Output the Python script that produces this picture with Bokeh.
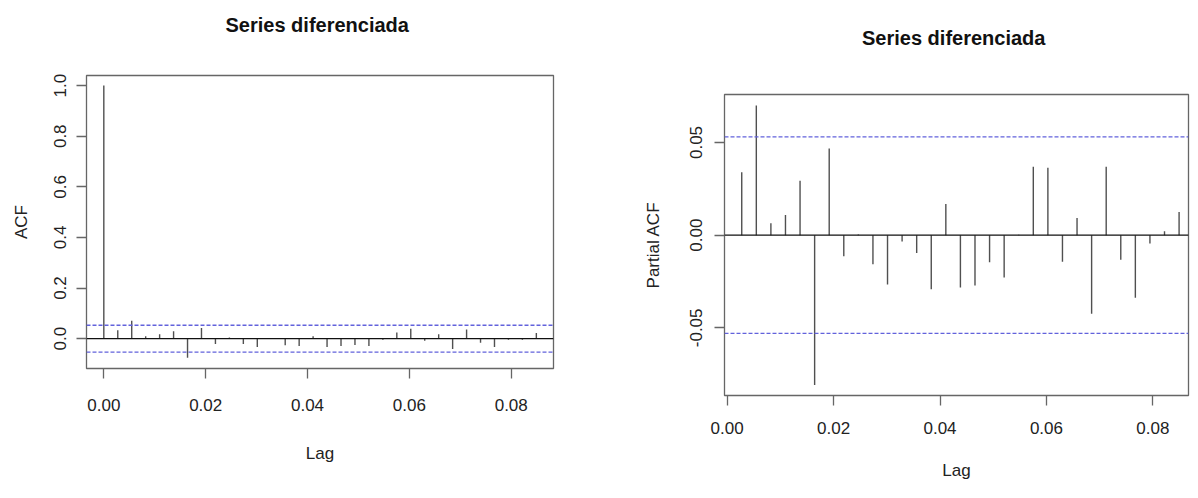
from bokeh.plotting import figure
from bokeh.layouts import row, column
from bokeh.models import Span, FixedTicker, NumeralTickFormatter, Range1d
from bokeh.embed import file_html
from bokeh.resources import INLINE

# ---------------- data ----------------
frequency = 365
acf_lag_index = [0, 1, 2, 3, 4, 5, 6, 7, 8, 9, 10, 11, 12, 13, 14, 15,
                 16, 17, 18, 19, 20, 21, 22, 23, 24, 25, 26, 27, 28, 29, 30, 31]
acf_values = [1.0, 0.033, 0.071, 0.009, 0.017, 0.029, -0.076, 0.042, -0.021, 0.005,
              -0.021, -0.033, 0.001, -0.026, -0.029, 0.009, -0.033, -0.029, -0.025, -0.029,
              -0.004, 0.024, 0.039, -0.008, 0.017, -0.041, 0.036, -0.016, -0.033, -0.004,
              -0.004, 0.022]
pacf_lag_index = [1, 2, 3, 4, 5, 6, 7, 8, 9, 10, 11, 12, 13, 14, 15, 16,
                  17, 18, 19, 20, 21, 22, 23, 24, 25, 26, 27, 28, 29, 30, 31]
pacf_values = [0.034, 0.070, 0.0064, 0.0109, 0.0294, -0.0809, 0.0467, -0.0114, 0.0003, -0.0157,
               -0.0266, -0.0034, -0.0096, -0.0292, 0.0168, -0.0282, -0.0271, -0.0146, -0.0228, 0.0002,
               0.0369, 0.0364, -0.0143, 0.0093, -0.0424, 0.0369, -0.0132, -0.0337, -0.0045, 0.0021,
               0.0125]
conf_limit = 0.053
title_text = "Series  diferenciada"
x_ticks = [0.0, 0.02, 0.04, 0.06, 0.08]
acf_y_ticks = [0.0, 0.2, 0.4, 0.6, 0.8, 1.0]
pacf_y_ticks = [-0.05, 0.0, 0.05]

acf_lags = [k / frequency for k in acf_lag_index]
pacf_lags = [k / frequency for k in pacf_lag_index]

FONT = "Liberation Sans"
BAR = "#505050"
BOX = "#666666"
BLUE = "#6262dc"


def style(p, ylabel, yfmt, yticks, title_sd, ylab_sd, ylbl_sd, xlab_sd, xlbl_sd):
    xa = p.below[0]
    ya = p.left[0]
    p.grid.visible = False
    p.outline_line_color = BOX
    p.outline_line_width = 1.3
    p.background_fill_color = "white"
    p.border_fill_color = "white"
    # trailing empty line lifts the title away from the frame
    p.title.text = title_text + "\n"
    p.title.align = "center"
    p.title.vertical_align = "top"
    p.title.standoff = title_sd
    p.title.text_line_height = 1.1
    p.title.text_font = FONT
    p.title.text_font_size = "20px"
    p.title.text_font_style = "bold"
    p.title.text_color = "#111111"
    for ax in (xa, ya):
        ax.axis_line_color = None
        ax.major_tick_line_color = BOX
        ax.major_tick_line_width = 1.3
        ax.major_tick_in = 0
        ax.major_tick_out = 10
        ax.minor_tick_line_color = None
        ax.major_label_text_font = FONT
        ax.major_label_text_font_size = "17px"
        ax.major_label_text_color = "#222222"
        ax.axis_label_text_font = FONT
        ax.axis_label_text_font_size = "17px"
        ax.axis_label_text_font_style = "normal"
        ax.axis_label_text_color = "#222222"
    xa.ticker = FixedTicker(ticks=x_ticks)
    xa.formatter = NumeralTickFormatter(format="0.00")
    xa.axis_label = "Lag"
    xa.major_label_standoff = xlab_sd
    xa.axis_label_standoff = xlbl_sd
    ya.ticker = FixedTicker(ticks=yticks)
    ya.formatter = NumeralTickFormatter(format=yfmt)
    ya.axis_label = ylabel
    ya.major_label_orientation = "vertical"
    ya.major_label_standoff = ylab_sd
    ya.axis_label_standoff = ylbl_sd


def add_marks(p, lags, vals):
    p.add_layout(Span(location=0, dimension="width", line_color="#111111", line_width=1.2))
    p.add_layout(Span(location=conf_limit, dimension="width", line_color=BLUE,
                      line_width=1.3, line_dash="4 2"))
    p.add_layout(Span(location=-conf_limit, dimension="width", line_color=BLUE,
                      line_width=1.3, line_dash="4 2"))
    p.segment(x0=lags, y0=[0] * len(lags), x1=lags, y1=vals, line_color=BAR, line_width=1.4)


# ---------------- ACF ----------------
p1 = figure(width=640, height=482, output_backend="svg", toolbar_location=None,
            x_range=Range1d(-0.0034, 0.0883), y_range=Range1d(-0.118, 1.04),
            min_border_left=86, min_border_right=87, min_border_top=75, min_border_bottom=114)
style(p1, "ACF", "0.0", acf_y_ticks, 27, 10, 21, 20, 30)
add_marks(p1, acf_lags, acf_values)

# ---------------- PACF ----------------
p2 = figure(width=550, height=482, output_backend="svg", toolbar_location=None,
            x_range=Range1d(-0.0005, 0.0867), y_range=Range1d(-0.0865, 0.0759),
            min_border_left=80, min_border_right=2, min_border_top=94, min_border_bottom=84)
style(p2, "Partial ACF", "0.00", pacf_y_ticks, 39, 12, 25, 16, 24)
add_marks(p2, pacf_lags, pacf_values)

layout = row(column(p1), column(p2))
open("out.html", "w").write(file_html(layout, INLINE))
